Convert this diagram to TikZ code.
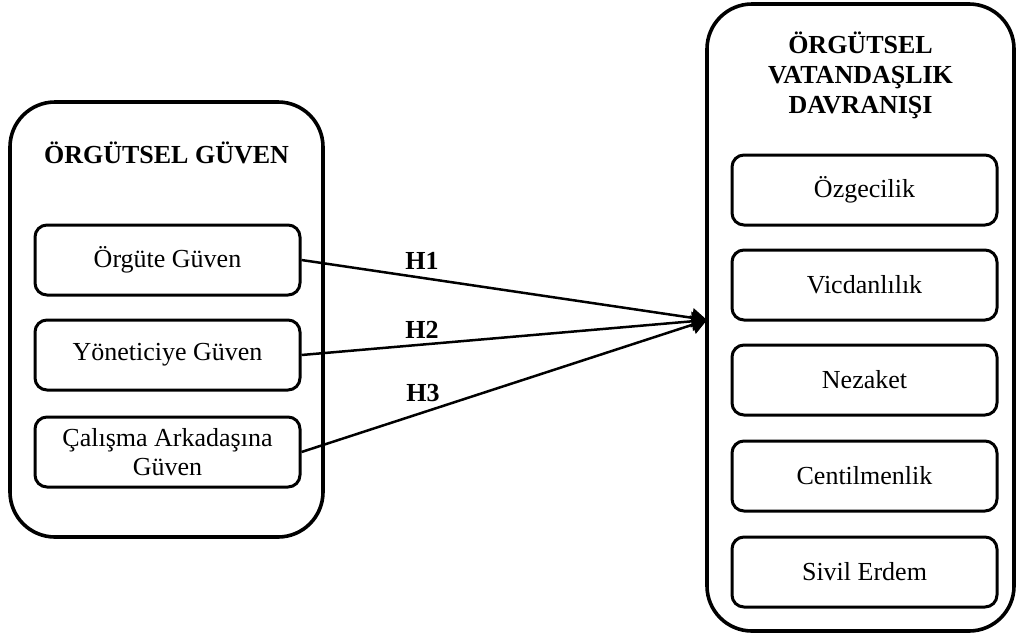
\documentclass[tikz,border=0pt]{standalone}
\usepackage{fontspec}
\setmainfont{Liberation Serif}
\usetikzlibrary{arrows.meta}
\tikzset{
  outerbox/.style={draw, line width=3.6pt, rounded corners=45pt},
  innerbox/.style={draw, line width=3pt, rounded corners=12pt, minimum width=265pt, minimum height=70pt, inner sep=0pt, align=center, font=\fontsize{26}{29}\selectfont},
  title/.style={align=center, font=\fontsize{26}{30}\selectfont\bfseries, inner sep=0pt},
  hlabel/.style={font=\fontsize{26}{30}\selectfont\bfseries, inner sep=0pt},
  arr/.style={line width=2.5pt, -{Triangle[length=15pt,width=19pt]}}
}
\begin{document}
\begin{tikzpicture}[x=1pt,y=-1pt]
\useasboundingbox (0,0) rectangle (1016,635);
% outer containers
\node[outerbox, minimum width=313pt, minimum height=435pt] (lout) at (166.5,319.5) {};
\node[outerbox, minimum width=307pt, minimum height=627pt] (rout) at (860.5,317.5) {};
% titles
\node[title] (ltitle) at (166.5,153) {ÖRGÜTSEL GÜVEN};
\node[title] (rtitle) at (860.5,75) {ÖRGÜTSEL\\VATANDAŞLIK\\DAVRANIŞI};
% left inner boxes
\node[innerbox] (l1) at (167.5,260) {Örgüte Güven};
\node[innerbox] (l2) at (167.5,355) {Yöneticiye Güven};
\node[innerbox] (l3) at (167.5,452) {Çalışma Arkadaşına\\Güven};
% right inner boxes
\node[innerbox] (r1) at (864.5,190) {Özgecilik};
\node[innerbox] (r2) at (864.5,285) {Vicdanlılık};
\node[innerbox] (r3) at (864.5,380) {Nezaket};
\node[innerbox] (r4) at (864.5,476) {Centilmenlik};
\node[innerbox] (r5) at (864.5,572) {Sivil Erdem};
% arrows
\coordinate (tip) at (707,320);
\draw[arr] (l1.east) -- (tip);
\draw[arr] (l2.east) -- (tip);
\draw[arr] (l3.east) -- (tip);
% labels
\node[hlabel] (h1) at (422,261) {H1};
\node[hlabel] (h2) at (422,330) {H2};
\node[hlabel] (h3) at (423,393) {H3};
\end{tikzpicture}
\end{document}
